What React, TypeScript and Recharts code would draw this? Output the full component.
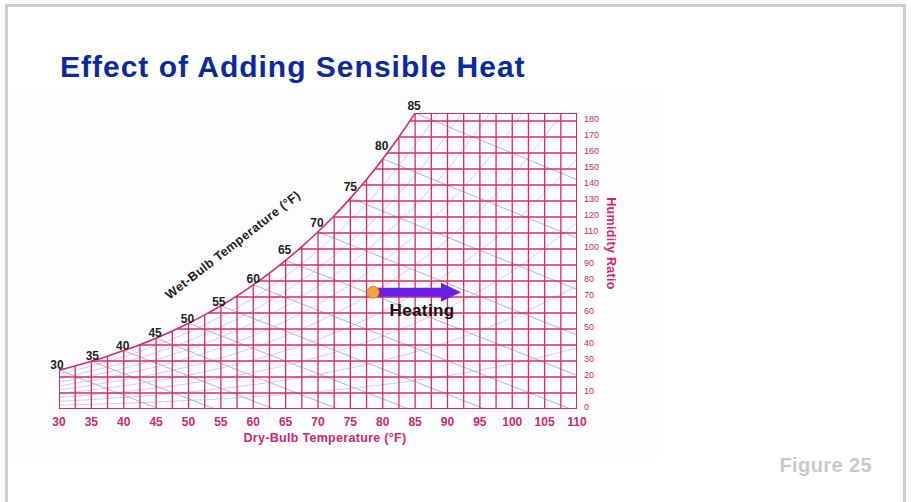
import React from 'react'
import { ComposedChart, Line, XAxis, YAxis, LabelList } from 'recharts'

// dry-bulb temperature (°F) and saturation humidity ratio (grains/lb) along the saturation curve
const SAT_T = [30, 32.5, 35, 37.5, 40, 42.5, 45, 47.5, 50, 52.5, 55, 57.5, 60, 62.5, 65, 67.5, 70, 72.5, 75, 77.5, 80, 82.5, 85]
const SAT_W = [24.3, 26.9, 29.9, 33.0, 36.5, 40.2, 44.2, 48.7, 53.6, 58.8, 64.5, 70.7, 77.6, 84.9, 92.9, 101.5, 110.8, 120.8, 131.8, 143.5, 156.3, 170.0, 184.9]

// dry-bulb lines right of the curve's top, running the full height
const OPEN_T = [87.5, 90, 92.5, 95, 97.5, 100, 102.5, 105, 107.5, 110]

// humidity ratio lines and the dry-bulb where each one meets the saturation curve
const HUM_W = [0, 10, 20, 30, 40, 50, 60, 70, 80, 90, 100, 110, 120, 130, 140, 150, 160, 170, 180]
const HUM_START_T = [30, 30, 30, 35.0, 42.3, 48.3, 53.0, 57.2, 60.8, 64.1, 67.1, 69.9, 72.4, 74.6, 76.8, 78.8, 80.7, 82.6, 84.3]

const X_TICKS = [30, 35, 40, 45, 50, 55, 60, 65, 70, 75, 80, 85, 90, 95, 100, 105, 110]
const T_MIN = 30
const T_MAX = 110
const W_TOP = 185

// wet-bulb lines: start on the curve, end on the bottom or right edge
const WB_T = [30, 35, 40, 45, 50, 55, 60, 65, 70, 75, 80, 85]
const WB_SAT_W = [24.3, 29.9, 36.5, 44.2, 53.6, 64.5, 77.6, 92.9, 110.8, 131.8, 156.3, 184.9]
const WB_END_T = [45.5, 54.1, 63.2, 73.1, 84.0, 95.8, 109.0, 110, 110, 110, 110, 110]
const WB_END_W = [0, 0, 0, 0, 0, 0, 0, 21.0, 46.2, 74.7, 106.9, 143.3]

// relative humidity curves 10%..90%
const RH_T = [30, 40, 50, 60, 70, 80, 90, 100, 110]
const RH_10 = [2.4, 3.6, 5.3, 7.6, 10.8, 15.1, 20.8, 28.3, 38.1]
const RH_20 = [4.8, 7.2, 10.6, 15.2, 21.6, 30.3, 41.8, 57.1, 77.0]
const RH_30 = [7.2, 10.8, 15.9, 22.9, 32.5, 45.6, 63.0, 86.1, 116.5]
const RH_40 = [9.6, 14.5, 21.2, 30.6, 43.5, 61.0, 84.4, 115.6, 156.7]
const RH_50 = [12.0, 18.1, 26.5, 38.3, 54.5, 76.5, 106.0, 145.5, 197.7]
const RH_60 = [14.4, 21.7, 31.9, 46.0, 65.6, 92.1, 127.9, 175.8, 239.4]
const RH_70 = [16.8, 25.4, 37.3, 53.8, 76.7, 107.8, 149.9, 206.4, 281.8]
const RH_80 = [19.2, 29.0, 42.6, 61.6, 87.9, 123.7, 172.2, 237.5, 325.0]
const RH_90 = [21.7, 32.7, 48.0, 69.4, 99.1, 139.6, 194.7, 269.0, 369.2]
const RH_CURVES = [RH_10, RH_20, RH_30, RH_40, RH_50, RH_60, RH_70, RH_80, RH_90]

// heating process: start and end of the arrow
const HEAT_T = [78.5, 89]
const HEAT_W = [73, 73]

const FONT = '"Liberation Sans", Arial, Helvetica, sans-serif'
const PINK = '#d72a6e'
const PINK_TEXT = '#d3266b'
const WB_GRAY = '#b3bab9'
const RH_GRAY = '#dfcfd4'
const PURPLE = '#6a20e4'

// label nudges for the wet-bulb numbers (dx, dy) next to the curve
const WB_DX = [-2, 1, -1, -1, -1, -2, 0, -1, -1, 0, -1, -1]
const WB_DY = [-1, -1, -1, -1, 0, 0, -2, -6, -5, -7, -9, -3]

const pts = (ts: number[], ws: number[]) => ts.map((t, i) => ({ t, w: ws[i] }))

const verticals = [
  ...SAT_T.map((t, i) => ({ edge: t === T_MIN, d: pts([t, t], [0, SAT_W[i]]) })),
  ...OPEN_T.map((t) => ({ edge: t === T_MAX, d: pts([t, t], [0, W_TOP]) })),
]
const horizontals = [
  ...HUM_W.map((w, i) => ({ edge: w === 0, d: pts([HUM_START_T[i], T_MAX], [w, w]) })),
  { edge: true, d: pts([SAT_T[SAT_T.length - 1], T_MAX], [W_TOP, W_TOP]) },
]
const wetBulbs = WB_T.map((t, i) => pts([t, WB_END_T[i]], [WB_SAT_W[i], WB_END_W[i]]))

const XTick = ({ x, y, payload }: any) => (
  <text x={x} y={y + 9} textAnchor="middle" fill={PINK_TEXT} fontSize={12} fontWeight="bold" fontFamily={FONT}>
    {payload.value}
  </text>
)

const YTick = ({ x, y, payload }: any) => (
  <text x={x - 1} y={y + 1} textAnchor="start" fill={PINK_TEXT} fontSize={9} fontFamily={FONT}>
    {payload.value}
  </text>
)

const wbLabel = (p: any) => {
  const k = WB_T.indexOf(Number(p.value))
  return (
    <text
      x={Number(p.x) + WB_DX[k]}
      y={Number(p.y) + WB_DY[k]}
      textAnchor="middle"
      fill="#1e1e1e"
      fontSize={12}
      fontWeight="bold"
      fontFamily={FONT}
    >
      {p.value}
    </text>
  )
}

const heatDot = (p: any) => {
  const { cx, cy, index } = p
  if (index === 0) {
    return <circle key="heat-start" cx={cx} cy={cy} r={6} fill="#f3a43e" stroke="#e2881f" strokeWidth={1} />
  }
  return (
    <g key="heat-end">
      <polygon points={`${cx},${cy - 9.5} ${cx + 20},${cy} ${cx},${cy + 9.5}`} fill={PURPLE} />
      <text x={cx - 19} y={cy + 24} textAnchor="middle" fill="#111" fontSize={17} fontWeight="bold" letterSpacing={0.4} fontFamily={FONT}>
        Heating
      </text>
    </g>
  )
}

const common = { dataKey: 'w', dot: false, activeDot: false, isAnimationActive: false } as const

export default function App() {
  return (
    <div style={{ position: 'absolute', left: 0, top: 0, width: 911, height: 502, background: '#fff' }}>
      <svg width={911} height={502} style={{ position: 'absolute', left: 0, top: 0 }}>
        <rect x={10} y={88} width={647} height={370} fill="#fdfdfd" />
        <rect x={6.5} y={5.5} width={898} height={620} fill="none" stroke="#cdcdcd" strokeWidth={3} />
        <text x={60} y={76.5} fill="#0b2a9f" fontSize={30} fontWeight="bold" letterSpacing={1} fontFamily={FONT}>
          Effect of Adding Sensible Heat
        </text>
        <text
          x={233}
          y={245}
          dy={4}
          textAnchor="middle"
          transform="rotate(-38 233 245)"
          fill="#1e1e1e"
          fontSize={12.5}
          fontWeight="bold"
          letterSpacing={0.4}
          fontFamily={FONT}
        >
          Wet-Bulb Temperature (°F)
        </text>
        <text x={872} y={472} textAnchor="end" fill="#c9c9c9" fontSize={20} fontWeight="bold" letterSpacing={0.4} fontFamily={FONT}>
          Figure 25
        </text>
      </svg>
      <div style={{ position: 'absolute', left: 0, top: 0 }}>
        <ComposedChart width={911} height={502} margin={{ top: 113, right: 294, bottom: 57, left: 59 }}>
          <XAxis
            type="number"
            dataKey="t"
            domain={[T_MIN, T_MAX]}
            ticks={X_TICKS}
            interval={0}
            allowDataOverflow
            axisLine={false}
            tickLine={false}
            height={36}
            tick={XTick}
            label={(p: any) => (
              <text
                x={p.viewBox.x + p.viewBox.width / 2 + 7}
                y={p.viewBox.y + 33}
                textAnchor="middle"
                fill={PINK_TEXT}
                fontSize={12.5}
                fontWeight="bold"
                letterSpacing={0.3}
                fontFamily={FONT}
              >
                Dry-Bulb Temperature (°F)
              </text>
            )}
          />
          <YAxis
            orientation="right"
            type="number"
            domain={[0, W_TOP]}
            ticks={HUM_W}
            interval={0}
            allowDataOverflow
            axisLine={false}
            tickLine={false}
            width={40}
            tick={YTick}
            label={(p: any) => {
              const cx = p.viewBox.x + 34
              const cy = p.viewBox.y + p.viewBox.height / 2 - 17.5
              return (
                <text
                  x={cx}
                  y={cy}
                  dy={4.3}
                  textAnchor="middle"
                  transform={`rotate(90 ${cx} ${cy})`}
                  fill={PINK_TEXT}
                  fontSize={12.5}
                  fontWeight="bold"
                  letterSpacing={0.3}
                  fontFamily={FONT}
                >
                  Humidity Ratio
                </text>
              )
            }}
          />

          {RH_CURVES.map((ws, i) => (
            <Line key={`rh-${i}`} {...common} data={pts(RH_T, ws)} type="monotone" stroke={RH_GRAY} strokeWidth={1} />
          ))}
          {wetBulbs.map((d, i) => (
            <Line key={`wb-${i}`} {...common} data={d} type="linear" stroke={WB_GRAY} strokeWidth={1} />
          ))}
          {horizontals.map((h, i) => (
            <Line key={`h-${i}`} {...common} data={h.d} type="linear" stroke={PINK} strokeWidth={h.edge ? 2 : 1.3} />
          ))}
          {verticals.map((v, i) => (
            <Line key={`v-${i}`} {...common} data={v.d} type="linear" stroke={PINK} strokeWidth={v.edge ? 2 : 1.3} />
          ))}
          <Line {...common} data={pts(SAT_T, SAT_W)} type="monotone" stroke={PINK} strokeWidth={1.6} />
          <Line {...common} data={pts(WB_T, WB_SAT_W)} stroke="none">
            <LabelList dataKey="t" content={wbLabel} />
          </Line>
          <Line
            dataKey="w"
            data={pts(HEAT_T, HEAT_W)}
            type="linear"
            stroke={PURPLE}
            strokeWidth={9}
            dot={heatDot}
            activeDot={false}
            isAnimationActive={false}
          />
        </ComposedChart>
      </div>
    </div>
  )
}
